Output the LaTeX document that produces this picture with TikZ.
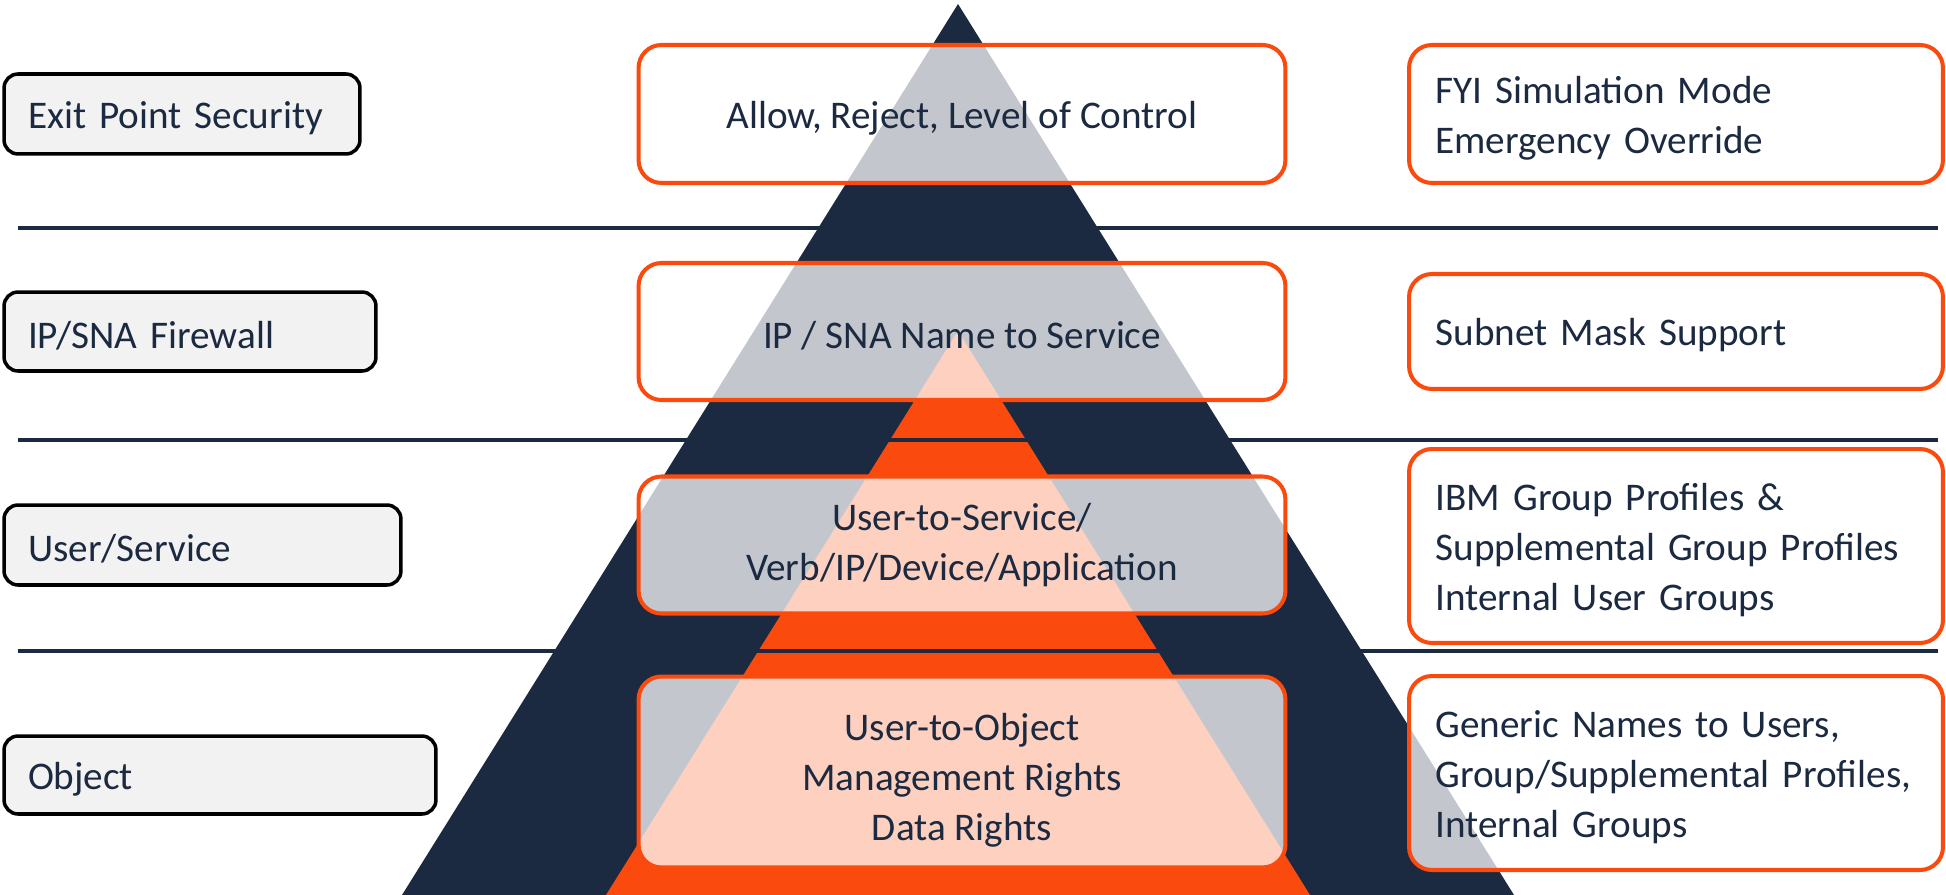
\documentclass[tikz,border=0pt]{standalone}
\usepackage{fontspec}
\setmainfont{Carlito}
\usepackage{xcolor}
\usepackage{tikz}
\definecolor{navy}{HTML}{1B2A41}
\definecolor{hot}{HTML}{FB4A0E}
\definecolor{pale}{HTML}{F2F2F2}
\newcommand{\boxfont}{\fontsize{22.3}{28.3}\selectfont\hyphenpenalty=10000}
\tikzset{
	layer node/.style={draw=black,line width=2pt,fill=pale,rounded corners=8pt,text=navy,font=\boxfont,
		align=left,inner xsep=0.48cm,inner ysep=0pt,execute at begin node={\rule{0pt}{20pt}}},
	rule node/.style={draw=hot,line width=2.3pt,fill=white,fill opacity=0.74,text opacity=1,
		rounded corners=13pt,text=navy,font=\boxfont,align=center,minimum width=12.94cm,
		execute at begin node={\rule{0pt}{20pt}}},
	note node/.style={draw=hot,line width=2.3pt,fill=white,fill opacity=0.74,text opacity=1,
		rounded corners=13pt,text=navy,font=\boxfont,align=left,inner xsep=0.53cm,text width=9.62cm,
		execute at begin node={\rule{0pt}{20pt}}},
	sep line/.style={draw=navy,line width=2.3pt}
}

\begin{document}
\begin{tikzpicture}[x=0.02cm,y=-0.02cm]
	\useasboundingbox (0,0) rectangle (1946,895);
	\fill[navy] (958,4) -- (1514,895) -- (402,895) -- cycle;
	\fill[hot] (958,331) -- (1310,895) -- (606,895) -- cycle;
	\draw[sep line] (18,228) -- (1938,228);
	\draw[sep line] (18,440) -- (1938,440);
	\draw[sep line] (18,651) -- (1938,651);
	\node [layer node,text width=6.16cm,minimum height=1.6cm] (l1) at (182,114) {Exit Point Security};
	\node [layer node,text width=6.48cm,minimum height=1.58cm] (l2) at (190,331.5) {IP/SNA Firewall};
	\node [layer node,text width=6.98cm,minimum height=1.6cm] (l3) at (202.5,545) {User/Service};
	\node [layer node,text width=7.68cm,minimum height=1.56cm] (l4) at (220,775) {Object};
	\node [rule node,minimum height=2.76cm] (c1) at (962,114) {Allow, Reject, Level of Control};
	\node [rule node,minimum height=2.74cm] (c2) at (962,331.5) {IP / SNA Name to Service};
	\node [rule node,minimum height=2.74cm] (c3) at (962,545) {User-to-Service/\\Verb/IP/Device/Application};
	\node [rule node,minimum height=3.82cm] (c4) at (962,772) {\rule{0pt}{25pt}User-to-Object\\Management Rights\\Data Rights};
	\node [note node,minimum height=2.76cm] (r1) at (1676,114) {FYI Simulation Mode\\Emergency Override};
	\node [note node,minimum height=2.3cm] (r2) at (1676,331.5) {Subnet Mask Support};
	\node [note node,minimum height=3.88cm] (r3) at (1676,546) {IBM Group Profiles \&\\Supplemental Group Profiles\\Internal User Groups};
	\node [note node,minimum height=3.88cm] (r4) at (1676,773) {Generic Names to Users,\\Group/Supplemental Profiles,\\Internal Groups};
\end{tikzpicture}
\end{document}
